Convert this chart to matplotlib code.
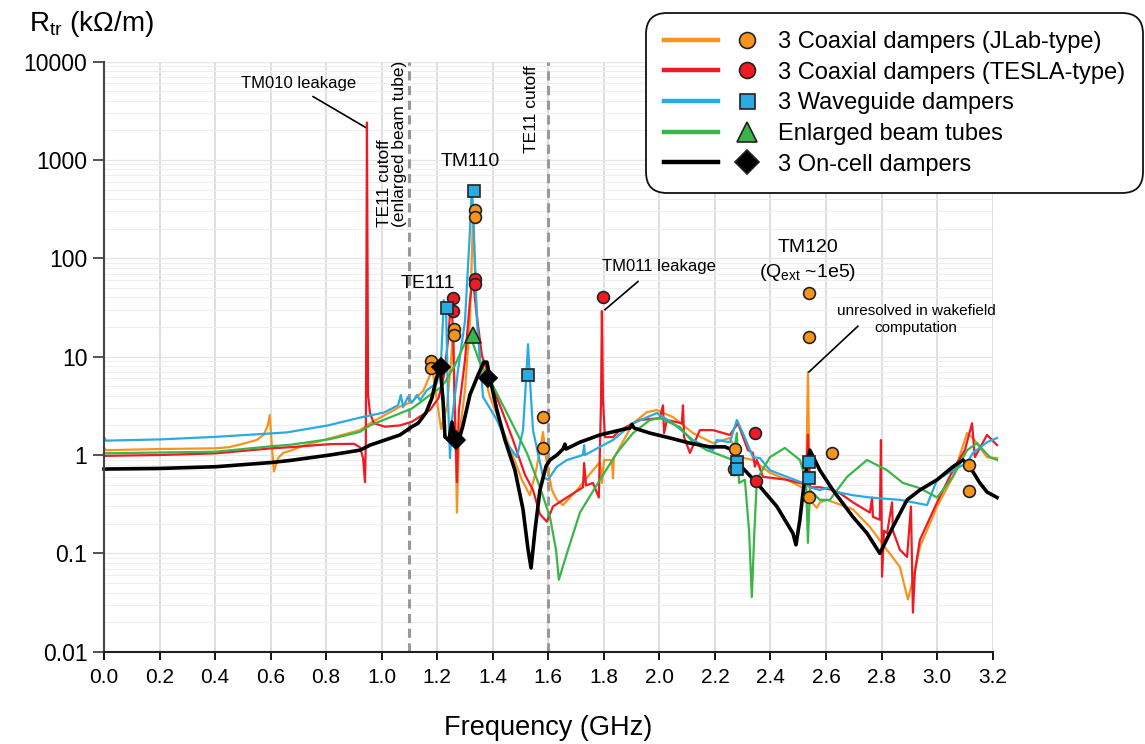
import matplotlib
matplotlib.use("Agg")
import matplotlib.pyplot as plt
from matplotlib.lines import Line2D
from matplotlib.legend_handler import HandlerTuple
from matplotlib.ticker import LogLocator, FixedLocator, FixedFormatter, NullFormatter

plt.rcParams['font.family'] = ['Liberation Sans', 'DejaVu Sans']
plt.rcParams['mathtext.fontset'] = 'custom'
plt.rcParams['mathtext.rm'] = 'Liberation Sans'
plt.rcParams['mathtext.it'] = 'Liberation Sans:italic'

# transverse impedance spectra, frequency in GHz, Rtr in kOhm/m
jlab_f = [0.000, 0.007, 0.200, 0.403, 0.450, 0.500, 0.550, 0.575, 0.590, 0.597, 0.604, 0.612, 0.627,
          0.645, 0.670, 0.720, 0.814, 0.922, 0.958, 1.066, 1.109, 1.150, 1.174, 1.181, 1.196, 1.214,
          1.235, 1.250, 1.257, 1.264, 1.271, 1.278, 1.300, 1.318, 1.329, 1.340, 1.354, 1.390, 1.451,
          1.505, 1.534, 1.556, 1.570, 1.581, 1.592, 1.613, 1.631, 1.653, 1.703, 1.761, 1.786, 1.793,
          1.801, 1.829, 1.833, 1.836, 1.905, 1.955, 1.991, 2.049, 2.121, 2.193, 2.254, 2.290, 2.337,
          2.398, 2.459, 2.513, 2.528, 2.535, 2.542, 2.549, 2.567, 2.578, 2.604, 2.697, 2.758, 2.820,
          2.866, 2.895, 2.913, 2.938, 3.000, 3.057, 3.108, 3.129, 3.180, 3.216]
jlab_r = [1.18, 1.12, 1.15, 1.17, 1.20, 1.30, 1.42, 1.60, 2.00, 2.55, 1.30, 0.68, 0.93,
          1.05, 1.10, 1.25, 1.48, 1.79, 2.10, 3.10, 3.47, 4.5, 6.5, 8.2, 4.1, 1.84,
          3.07, 9.2, 18.6, 3.6, 0.26, 1.42, 4.57, 23, 270, 37, 9.2, 3.9, 1.42,
          0.56, 0.39, 0.70, 1.12, 1.71, 0.93, 0.44, 0.35, 0.31, 0.44, 0.70, 0.85, 0.52,
          0.89, 0.89, 0.58, 0.93, 2.10, 2.73, 2.86, 2.43, 1.67, 1.32, 1.49, 0.95, 0.89,
          0.66, 0.56, 0.47, 0.44, 6.96, 0.39, 0.33, 0.29, 0.33, 0.35, 0.28, 0.186, 0.108,
          0.073, 0.034, 0.054, 0.116, 0.30, 0.60, 1.67, 1.49, 0.95, 0.93]

tesla_f = [0.000, 0.200, 0.403, 0.605, 0.670, 0.814, 0.900, 0.922, 0.933, 0.940, 0.943, 0.947, 0.951,
           0.958, 0.972, 1.012, 1.066, 1.109, 1.174, 1.205, 1.225, 1.239, 1.250, 1.257, 1.264, 1.271,
           1.278, 1.300, 1.318, 1.329, 1.340, 1.361, 1.390, 1.426, 1.473, 1.516, 1.545, 1.570, 1.595,
           1.617, 1.667, 1.725, 1.729, 1.736, 1.761, 1.782, 1.790, 1.793, 1.797, 1.804, 1.833, 1.858,
           1.930, 2.002, 2.013, 2.017, 2.027, 2.081, 2.085, 2.089, 2.110, 2.146, 2.193, 2.254, 2.283,
           2.319, 2.337, 2.344, 2.351, 2.373, 2.459, 2.528, 2.535, 2.542, 2.578, 2.625, 2.650, 2.697,
           2.758, 2.766, 2.769, 2.794, 2.798, 2.802, 2.809, 2.820, 2.838, 2.841, 2.866, 2.892, 2.906,
           2.913, 2.920, 2.938, 3.000, 3.057, 3.100, 3.126, 3.136, 3.180, 3.216]
tesla_r = [0.98, 1.00, 1.04, 1.17, 1.20, 1.29, 1.30, 1.20, 0.93, 0.53, 1.4, 2400, 4.1,
           2.67, 2.10, 1.94, 2.00, 2.18, 2.86, 3.8, 6.5, 14.7, 37.5, 18.6, 2.27, 0.53,
           2.86, 9.2, 37.5, 63, 29.6, 10.3, 5.8, 3.2, 1.42, 0.63, 0.44, 0.25, 0.21,
           0.30, 0.37, 0.47, 0.83, 0.49, 0.52, 0.37, 3.6, 29, 3.6, 1.52, 1.52, 1.79,
           2.27, 2.37, 3.2, 1.67, 2.27, 2.10, 3.2, 1.52, 1.05, 1.79, 1.79, 1.60, 2.10,
           1.12, 1.05, 0.76, 0.89, 0.60, 0.56, 0.50, 1.60, 0.47, 0.47, 0.44, 0.41, 0.33,
           0.26, 0.37, 0.235, 0.22, 1.42, 0.058, 0.17, 0.16, 0.33, 0.17, 0.109, 0.092, 0.30,
           0.025, 0.064, 0.137, 0.33, 0.70, 1.12, 2.10, 0.95, 1.60, 1.26]

wg_f = [0.000, 0.007, 0.200, 0.403, 0.605, 0.660, 0.807, 0.922, 1.008, 1.059, 1.069, 1.077, 1.095,
        1.109, 1.127, 1.138, 1.163, 1.199, 1.214, 1.224, 1.232, 1.239, 1.246, 1.253, 1.275, 1.300,
        1.318, 1.325, 1.332, 1.343, 1.365, 1.415, 1.451, 1.487, 1.509, 1.520, 1.527, 1.534, 1.545,
        1.581, 1.599, 1.631, 1.667, 1.725, 1.729, 1.732, 1.786, 1.833, 1.905, 1.991, 2.049, 2.121,
        2.193, 2.207, 2.254, 2.279, 2.301, 2.337, 2.362, 2.398, 2.459, 2.517, 2.542, 2.578, 2.614,
        2.640, 2.697, 2.758, 2.866, 2.964, 3.000, 3.057, 3.108, 3.129, 3.180, 3.216]
wg_r = [1.52, 1.40, 1.44, 1.53, 1.66, 1.70, 2.00, 2.40, 2.70, 3.20, 4.07, 3.07, 3.9,
        3.4, 4.07, 3.6, 4.57, 5.4, 9.2, 37.5, 29.6, 3.6, 0.93, 2.27, 7.3, 23,
        193, 550, 193, 23, 3.9, 2.27, 1.32, 0.95, 1.79, 5.8, 13.4, 5.8, 1.79,
        0.60, 0.56, 0.76, 0.89, 1.00, 1.26, 1.00, 1.21, 1.42, 2.10, 2.67, 2.10, 1.42,
        1.12, 1.42, 1.35, 2.27, 1.67, 0.95, 0.93, 0.70, 0.60, 0.52, 0.47, 0.44, 0.47,
        0.42, 0.39, 0.37, 0.35, 0.31, 0.56, 0.70, 0.83, 1.05, 1.35, 1.49]

ebt_f = [0.000, 0.200, 0.403, 0.605, 0.670, 0.814, 0.922, 0.958, 1.066, 1.109, 1.174, 1.210, 1.228,
         1.264, 1.293, 1.318, 1.354, 1.390, 1.451, 1.523, 1.570, 1.606, 1.628, 1.638, 1.667, 1.714,
         1.786, 1.847, 1.905, 1.966, 2.002, 2.074, 2.121, 2.171, 2.218, 2.265, 2.279, 2.287, 2.308,
         2.323, 2.333, 2.341, 2.351, 2.398, 2.452, 2.506, 2.528, 2.535, 2.542, 2.578, 2.614, 2.676,
         2.748, 2.820, 2.877, 2.938, 3.000, 3.057, 3.108, 3.144, 3.190, 3.216]
ebt_r = [1.04, 1.06, 1.08, 1.23, 1.27, 1.45, 1.72, 2.00, 2.65, 2.97, 4.07, 4.8, 5.5,
         8.2, 12.5, 16.6, 8.6, 5.8, 2.67, 1.05, 0.47, 0.235, 0.108, 0.054, 0.10, 0.26,
         0.56, 1.05, 1.67, 2.27, 2.37, 1.92, 1.35, 1.12, 1.00, 0.89, 1.67, 0.52, 0.56,
         0.17, 0.036, 0.14, 0.56, 0.95, 1.18, 0.89, 0.56, 0.128, 0.44, 0.35, 0.35, 0.60,
         0.89, 0.70, 0.52, 0.46, 0.37, 0.60, 1.12, 1.32, 0.95, 0.89]

oncell_f = [0.000, 0.200, 0.403, 0.605, 0.670, 0.814, 0.922, 0.958, 1.066, 1.109, 1.131, 1.160, 1.181,
            1.196, 1.210, 1.221, 1.228, 1.242, 1.253, 1.264, 1.275, 1.293, 1.318, 1.347, 1.368, 1.379,
            1.390, 1.415, 1.444, 1.480, 1.509, 1.527, 1.538, 1.552, 1.570, 1.592, 1.606, 1.631, 1.653,
            1.660, 1.664, 1.714, 1.786, 1.858, 1.894, 1.901, 1.909, 1.966, 2.038, 2.110, 2.182, 2.236,
            2.265, 2.290, 2.351, 2.423, 2.481, 2.492, 2.506, 2.524, 2.542, 2.578, 2.625, 2.697, 2.748,
            2.794, 2.841, 2.892, 2.938, 3.000, 3.057, 3.093, 3.118, 3.154, 3.180, 3.216]
oncell_r = [0.72, 0.73, 0.76, 0.84, 0.88, 1.00, 1.12, 1.26, 1.60, 1.94, 2.10, 2.7, 3.8,
            5.8, 8.2, 3.6, 1.52, 1.42, 2.16, 1.42, 1.32, 2.0, 4.1, 6.5, 8.8, 8.8,
            6.0, 2.86, 1.42, 0.70, 0.28, 0.11, 0.071, 0.17, 0.44, 0.77, 0.89, 1.00, 1.15,
            1.29, 1.15, 1.35, 1.60, 1.79, 1.88, 2.05, 1.88, 1.67, 1.49, 1.32, 1.21, 1.21,
            1.12, 0.79, 0.52, 0.30, 0.16, 0.122, 0.22, 0.60, 1.12, 0.70, 0.44, 0.235, 0.16,
            0.10, 0.186, 0.35, 0.44, 0.56, 0.76, 0.89, 0.76, 0.52, 0.42, 0.37]

# eigenmode results
jlab_mf = [1.178, 1.178, 1.260, 1.260, 1.336, 1.336, 1.581, 1.581, 2.272, 2.269, 2.539, 2.539,
           2.539, 2.622, 3.115, 3.115]
jlab_mr = [9.0, 7.6, 19, 16.6, 310, 265, 2.43, 1.18, 1.15, 0.72, 44, 15.8, 0.37, 1.05, 0.79, 0.43]
tesla_mf = [1.257, 1.257, 1.336, 1.336, 1.797, 2.344, 2.348]
tesla_mr = [39, 29, 61, 55, 40, 1.67, 0.54]
wg_mf = [1.235, 1.332, 1.527, 2.279, 2.279, 2.539, 2.539]
wg_mr = [31, 480, 6.5, 0.85, 0.72, 0.85, 0.58]
ebt_mf = [1.329]
ebt_mr = [16.6]
oncell_mf = [1.214, 1.268, 1.383]
oncell_mr = [7.8, 1.42, 6.0]

labels = ['3 Coaxial dampers (JLab-type)', '3 Coaxial dampers (TESLA-type)',
          '3 Waveguide dampers', 'Enlarged beam tubes', '3 On-cell dampers']
colors = ['#F7941E', '#ED1C24', '#29ABE2', '#39B54A', '#000000']
markers = ['o', 'o', 's', '^', 'D']
msizes = [8.5, 8.5, 8, 11, 9]

fig = plt.figure(figsize=(11.45, 7.44), dpi=100)
ax = fig.add_axes([0.0908, 0.124, 0.7761, 0.7933])
ax.set_yscale('log')
ax.set_xlim(0, 3.2)
ax.set_ylim(0.01, 10000)

# grid
ax.set_xticks([i * 0.2 for i in range(17)])
ax.xaxis.grid(True, color='#d9d9d9', lw=1.2)
ax.yaxis.set_major_locator(FixedLocator([0.01, 0.1, 1, 10, 100, 1000, 10000]))
ax.yaxis.set_major_formatter(FixedFormatter(['0.01', '0.1', '1', '10', '100', '1000', '10000']))
ax.yaxis.set_minor_locator(LogLocator(base=10, subs=[2, 3, 4, 5, 6, 7, 8, 9]))
ax.yaxis.set_minor_formatter(NullFormatter())
ax.yaxis.grid(True, which='major', color='#e6e6e6', lw=0.9)
ax.yaxis.grid(True, which='minor', color='#eeeeee', lw=0.8)
ax.set_axisbelow(True)

for x in (1.1, 1.6):
    ax.axvline(x, color='#999999', lw=2.2, dashes=(3, 1.8), zorder=1.5)

series = [(wg_f, wg_r, 2), (ebt_f, ebt_r, 3), (jlab_f, jlab_r, 0), (oncell_f, oncell_r, 4),
          (tesla_f, tesla_r, 1)]
for f, r, k in series:
    lw = 2.6 if k == 4 else 1.6
    ax.plot(f, r, color=colors[k], lw=lw, zorder=2 + 0.1 * k, clip_on=False)

pts = [(jlab_mf, jlab_mr), (tesla_mf, tesla_mr), (wg_mf, wg_mr), (ebt_mf, ebt_mr),
       (oncell_mf, oncell_mr)]
for k, (f, r) in enumerate(pts):
    ax.plot(f, r, ls='none', marker=markers[k], ms=msizes[k], mfc=colors[k],
            mec='#222222' if k != 4 else '#000000', mew=1.2, zorder=5)

for s in ('top', 'right'):
    ax.spines[s].set_visible(False)
ax.spines['left'].set_color('#444444')
ax.spines['left'].set_linewidth(1.5)
ax.spines['bottom'].set_color('#222222')
ax.spines['bottom'].set_linewidth(1.5)
ax.tick_params(axis='y', which='major', direction='out', length=8, width=1.3,
               color='#444444', labelsize=16.5, pad=4)
ax.tick_params(axis='y', which='minor', length=0)
ax.tick_params(axis='x', direction='out', length=6, width=1.3, labelsize=15, pad=6)
ax.set_xticklabels(['%.1f' % (i * 0.2) for i in range(17)])

ax.set_xlabel('Frequency (GHz)', fontsize=19.5, labelpad=20)
fig.text(29 / 1145, 1 - 31 / 744, r'R$_{\mathrm{tr}}$ (kΩ/m)', fontsize=20, va='baseline')

# annotations
ax.text(0.70, 6000, 'TM010 leakage', fontsize=12, ha='center', va='center')
ax.plot([0.753, 0.947], [4400, 2100], color='black', lw=1.2)
ax.text(1.037, 206, 'TE11 cutoff\n(enlarged beam tube)', rotation=90, fontsize=12.5,
        ha='center', va='bottom', multialignment='left', linespacing=0.95)
ax.text(1.541, 1164, 'TE11 cutoff', rotation=90, fontsize=12.5, ha='center', va='bottom')
ax.text(1.318, 960, 'TM110', fontsize=14, ha='center', va='center')
ax.text(1.167, 56, 'TE111', fontsize=14, ha='center', va='center')
ax.text(1.998, 83, 'TM011 leakage', fontsize=12, ha='center', va='center')
ax.plot([1.923, 1.804], [58, 30], color='black', lw=1.2)
ax.text(2.535, 130, 'TM120', fontsize=14, ha='center', va='center')
ax.text(2.535, 71, r'(Q$_{\mathrm{ext}}$ ~1e5)', fontsize=14, ha='center', va='center')
ax.text(2.925, 24, 'unresolved in wakefield\ncomputation', fontsize=11, ha='center',
        va='center', linespacing=1.25)
ax.plot([2.715, 2.539], [20.4, 7.0], color='black', lw=1.2)

# legend: line sample followed by the eigenmode marker
handles = []
for k in range(5):
    ln = Line2D([], [], color=colors[k], lw=3.2)
    mk = Line2D([], [], ls='none', marker=markers[k], ms=msizes[k] * 1.35, mfc=colors[k],
                mec='#222222', mew=1.2)
    handles.append((ln, mk))
leg = fig.legend(handles, labels, loc='upper right', bbox_to_anchor=(1137 / 1145, 1 - 19 / 744),
                 handler_map={tuple: HandlerTuple(ndivide=2, pad=0.05)}, handlelength=4.7,
                 handletextpad=0.15, fontsize=17, labelspacing=0.37, borderpad=0.5,
                 borderaxespad=0, frameon=True, fancybox=True, framealpha=1,
                 edgecolor='#111111')
leg.get_frame().set_linewidth(1.3)
leg.get_frame().set_boxstyle('round,pad=0.25,rounding_size=0.9')

fig.savefig('out.png', dpi=100)
